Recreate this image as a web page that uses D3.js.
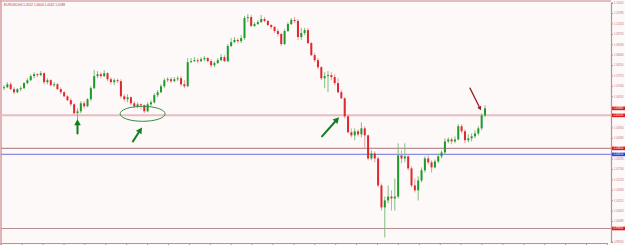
<!DOCTYPE html>
<html>
<head>
<meta charset="utf-8">
<script src="https://cdn.jsdelivr.net/npm/d3@7"></script>
<style>
  body { margin: 0; background: #fdf9f9; }
  text { font-family: "Liberation Sans", Arial, sans-serif; }
</style>
</head>
<body>
<div id="chart-area"></div>
<script>
// EURUSD H4 candlestick chart with support levels and arrows

const symbol = "EURUSD,H4"

const openP = [
  1.0692, 1.0697, 1.0712, 1.0687, 1.0671, 1.0687, 1.0692, 1.0718, 1.0733, 1.0754,
  1.0764, 1.0759, 1.0769, 1.0723, 1.0733, 1.0707, 1.0712, 1.0687, 1.0671, 1.0650,
  1.0630, 1.0609, 1.0563, 1.0573, 1.0614, 1.0599, 1.0635, 1.0692, 1.0754, 1.0764,
  1.0754, 1.0769, 1.0738, 1.0723, 1.0733, 1.0728, 1.0650, 1.0635, 1.0645, 1.0614,
  1.0599, 1.0609, 1.0604, 1.0573, 1.0609, 1.0619, 1.0656, 1.0671, 1.0702, 1.0733,
  1.0738, 1.0728, 1.0738, 1.0743, 1.0712, 1.0702, 1.0826, 1.0831, 1.0836, 1.0831,
  1.0841, 1.0847, 1.0831, 1.0810, 1.0821, 1.0836, 1.0852, 1.0831, 1.0909, 1.0929,
  1.0940, 1.0934, 1.0950, 1.1053, 1.1058, 1.1012, 1.1022, 1.1032, 1.1048, 1.1038,
  1.1017, 1.1007, 1.0986, 1.0971, 1.0919, 1.0986, 1.1022, 1.1043, 1.1038, 1.0955,
  1.0976, 1.0991, 1.0924, 1.0862, 1.0836, 1.0800, 1.0743, 1.0754, 1.0759, 1.0749,
  1.0718, 1.0671, 1.0640, 1.0547, 1.0465, 1.0449, 1.0470, 1.0454, 1.0485, 1.0449,
  1.0330, 1.0356, 1.0330, 1.0191, 1.0078, 1.0114, 1.0134, 1.0124, 1.0134, 1.0346,
  1.0330, 1.0341, 1.0279, 1.0191, 1.0166, 1.0217, 1.0269, 1.0330, 1.0310, 1.0284,
  1.0315, 1.0341, 1.0361, 1.0418, 1.0428, 1.0418, 1.0428, 1.0496, 1.0470, 1.0424,
  1.0434, 1.0444, 1.0459, 1.0485, 1.0552
]
const highP = [
  1.0707, 1.0723, 1.0723, 1.0697, 1.0692, 1.0702, 1.0723, 1.0743, 1.0764, 1.0774,
  1.0769, 1.0780, 1.0774, 1.0743, 1.0738, 1.0723, 1.0718, 1.0697, 1.0676, 1.0656,
  1.0640, 1.0614, 1.0588, 1.0625, 1.0625, 1.0640, 1.0702, 1.0785, 1.0780, 1.0774,
  1.0785, 1.0774, 1.0749, 1.0743, 1.0743, 1.0738, 1.0661, 1.0661, 1.0650, 1.0625,
  1.0619, 1.0614, 1.0609, 1.0619, 1.0630, 1.0666, 1.0682, 1.0712, 1.0743, 1.0749,
  1.0749, 1.0749, 1.0754, 1.0754, 1.0733, 1.0847, 1.0847, 1.0852, 1.0847, 1.0852,
  1.0857, 1.0852, 1.0841, 1.0831, 1.0847, 1.0867, 1.0862, 1.0919, 1.0950, 1.0955,
  1.0950, 1.0965, 1.1064, 1.1074, 1.1069, 1.1032, 1.1043, 1.1069, 1.1058, 1.1043,
  1.1022, 1.1012, 1.0996, 1.0976, 1.0996, 1.1032, 1.1053, 1.1058, 1.1048, 1.1002,
  1.1002, 1.1002, 1.0929, 1.0872, 1.0847, 1.0805, 1.0774, 1.0780, 1.0774, 1.0764,
  1.0743, 1.0682, 1.0645, 1.0557, 1.0485, 1.0485, 1.0480, 1.0516, 1.0496, 1.0454,
  1.0372, 1.0367, 1.0341, 1.0201, 1.0134, 1.0191, 1.0166, 1.0227, 1.0408, 1.0372,
  1.0408, 1.0351, 1.0289, 1.0227, 1.0238, 1.0284, 1.0341, 1.0346, 1.0320, 1.0325,
  1.0356, 1.0372, 1.0434, 1.0439, 1.0439, 1.0444, 1.0506, 1.0506, 1.0480, 1.0454,
  1.0459, 1.0475, 1.0496, 1.0563, 1.0604
]
const lowP = [
  1.0682, 1.0692, 1.0682, 1.0661, 1.0666, 1.0676, 1.0687, 1.0712, 1.0728, 1.0743,
  1.0749, 1.0754, 1.0712, 1.0712, 1.0702, 1.0697, 1.0682, 1.0661, 1.0645, 1.0625,
  1.0599, 1.0552, 1.0521, 1.0563, 1.0588, 1.0594, 1.0625, 1.0687, 1.0743, 1.0743,
  1.0749, 1.0728, 1.0712, 1.0707, 1.0718, 1.0640, 1.0625, 1.0619, 1.0604, 1.0588,
  1.0588, 1.0583, 1.0563, 1.0568, 1.0599, 1.0614, 1.0645, 1.0666, 1.0692, 1.0723,
  1.0718, 1.0723, 1.0728, 1.0702, 1.0692, 1.0697, 1.0821, 1.0826, 1.0821, 1.0826,
  1.0831, 1.0826, 1.0800, 1.0800, 1.0816, 1.0831, 1.0826, 1.0826, 1.0903, 1.0924,
  1.0924, 1.0924, 1.0940, 1.1032, 1.1007, 1.1007, 1.1017, 1.1027, 1.1032, 1.1012,
  1.0996, 1.0976, 1.0960, 1.0909, 1.0914, 1.0981, 1.1017, 1.1027, 1.0940, 1.0940,
  1.0965, 1.0919, 1.0857, 1.0826, 1.0790, 1.0733, 1.0692, 1.0671, 1.0733, 1.0707,
  1.0666, 1.0635, 1.0537, 1.0459, 1.0439, 1.0424, 1.0444, 1.0439, 1.0382, 1.0320,
  1.0320, 1.0310, 1.0181, 1.0062, 0.9923, 1.0098, 1.0062, 1.0062, 1.0124, 1.0305,
  1.0310, 1.0269, 1.0181, 1.0155, 1.0114, 1.0207, 1.0258, 1.0299, 1.0258, 1.0279,
  1.0305, 1.0330, 1.0351, 1.0408, 1.0403, 1.0408, 1.0424, 1.0459, 1.0408, 1.0413,
  1.0418, 1.0434, 1.0449, 1.0475, 1.0542
]
const closeP = [
  1.0697, 1.0712, 1.0687, 1.0671, 1.0687, 1.0692, 1.0718, 1.0733, 1.0754, 1.0764,
  1.0759, 1.0769, 1.0723, 1.0733, 1.0707, 1.0712, 1.0687, 1.0671, 1.0650, 1.0630,
  1.0609, 1.0563, 1.0573, 1.0614, 1.0599, 1.0635, 1.0692, 1.0754, 1.0764, 1.0754,
  1.0769, 1.0738, 1.0723, 1.0733, 1.0728, 1.0650, 1.0635, 1.0645, 1.0614, 1.0599,
  1.0609, 1.0604, 1.0573, 1.0609, 1.0619, 1.0656, 1.0671, 1.0702, 1.0733, 1.0738,
  1.0728, 1.0738, 1.0743, 1.0712, 1.0702, 1.0826, 1.0831, 1.0836, 1.0831, 1.0841,
  1.0847, 1.0831, 1.0810, 1.0821, 1.0836, 1.0852, 1.0831, 1.0909, 1.0929, 1.0940,
  1.0934, 1.0950, 1.1053, 1.1058, 1.1012, 1.1022, 1.1032, 1.1048, 1.1038, 1.1017,
  1.1007, 1.0986, 1.0971, 1.0919, 1.0986, 1.1022, 1.1043, 1.1038, 1.0955, 1.0976,
  1.0991, 1.0924, 1.0862, 1.0836, 1.0800, 1.0743, 1.0754, 1.0759, 1.0749, 1.0718,
  1.0671, 1.0640, 1.0547, 1.0465, 1.0449, 1.0470, 1.0454, 1.0485, 1.0449, 1.0330,
  1.0356, 1.0330, 1.0191, 1.0078, 1.0114, 1.0134, 1.0124, 1.0134, 1.0346, 1.0330,
  1.0341, 1.0279, 1.0191, 1.0166, 1.0217, 1.0269, 1.0330, 1.0310, 1.0284, 1.0315,
  1.0341, 1.0361, 1.0418, 1.0428, 1.0418, 1.0428, 1.0496, 1.0470, 1.0424, 1.0434,
  1.0444, 1.0459, 1.0485, 1.0552, 1.0588
]

// right price scale labels
const priceLabels = [
  "1.11320", "1.10785", "1.10250", "1.09715", "1.09180", "1.08645", "1.08110", "1.07575",
  "1.07040", "1.06505", "1.05970", "1.05435", "1.04900", "1.04365", "1.03830", "1.03295",
  "1.02760", "1.02225", "1.01690", "1.01155", "1.00620", "1.00085", "0.99550", "0.99015"
]

// horizontal levels drawn on the chart
const levelPrices = [1.0552, 1.0382, 1.0351, 0.99695]

// arrows: [candle index, price] tail -> head
const greenArrows = [
  [[22, 1.0459], [22, 1.0532]],
  [[38.6, 1.0418], [41.3, 1.0490]],
  [[95.2, 1.0444], [100.3, 1.0542]]
]
const redArrow = [[139.5, 1.0692], [142.8, 1.0578]]
const ellipseCenter = [41.5, 1.0560]

const W = 625, H = 245
const PLOT = { LEFT: 1, RIGHT: 611, TOP: 1, BOTTOM: 243 }

const svg = d3.select("#chart-area").append("svg")
  .attr("width", W)
  .attr("height", H)

svg.append("rect")
  .attr("width", W).attr("height", H)
  .attr("fill", "#fdf9f9")

const x = d3.scaleLinear()
  .domain([0, closeP.length - 1])
  .range([4, 485])

const y = d3.scaleLinear()
  .domain([+priceLabels[0], +priceLabels[priceLabels.length - 1]])
  .range([2.7, 241.7])

// day separators on the time axis
const dayX = d3.scaleLinear().domain([0, 29]).range([0.8, 606.9])

// frame
svg.append("line")
  .attr("x1", PLOT.LEFT).attr("x2", PLOT.LEFT)
  .attr("y1", 0).attr("y2", H)
  .attr("stroke", "#e2b4b8").attr("stroke-width", 2)
svg.append("line")
  .attr("x1", 0).attr("x2", PLOT.RIGHT)
  .attr("y1", PLOT.TOP).attr("y2", PLOT.TOP)
  .attr("stroke", "#d9a9ad").attr("stroke-width", 1.5)

// levels
const levelColors = ["#e8bcc0", "#b88e90", "#8c8ce0", "#b88e90"]
const levelWidths = [2, 1.2, 1.2, 1.2]
svg.selectAll(".level")
  .data(levelPrices)
  .enter().append("line")
  .attr("class", "level")
  .attr("x1", PLOT.LEFT).attr("x2", PLOT.RIGHT)
  .attr("y1", d => y(d)).attr("y2", d => y(d))
  .attr("stroke", (d, i) => levelColors[i])
  .attr("stroke-width", (d, i) => levelWidths[i])

// candles
const candles = closeP.map((c, i) => ({ i, o: openP[i], h: highP[i], l: lowP[i], c }))

const cg = svg.append("g")
cg.selectAll(".wick")
  .data(candles)
  .enter().append("line")
  .attr("class", "wick")
  .attr("x1", d => x(d.i)).attr("x2", d => x(d.i))
  .attr("y1", d => y(d.h)).attr("y2", d => y(d.l))
  .attr("stroke", d => d.c >= d.o ? "#7fbf7f" : "#eb9a9e")
  .attr("stroke-width", 1)

cg.selectAll(".body")
  .data(candles)
  .enter().append("rect")
  .attr("class", "body")
  .attr("x", d => x(d.i) - 1)
  .attr("width", 2)
  .attr("y", d => y(Math.max(d.o, d.c)))
  .attr("height", d => Math.max(1, Math.abs(y(d.o) - y(d.c))))
  .attr("fill", d => d.c >= d.o ? "#1f9a2a" : "#e0262e")

// annotations
function arrow(pair, color, width, head) {
  const x1 = x(pair[0][0]), y1 = y(pair[0][1])
  const x2 = x(pair[1][0]), y2 = y(pair[1][1])
  const a = Math.atan2(y2 - y1, x2 - x1)
  const bx = x2 - head * Math.cos(a), by = y2 - head * Math.sin(a)
  svg.append("line")
    .attr("x1", x1).attr("y1", y1).attr("x2", bx).attr("y2", by)
    .attr("stroke", color).attr("stroke-width", width)
    .attr("stroke-linecap", "round")
  const px = Math.sin(a) * head * 0.55, py = -Math.cos(a) * head * 0.55
  svg.append("path")
    .attr("d", `M${x2},${y2}L${bx + px},${by + py}L${bx - px},${by - py}Z`)
    .attr("fill", color)
}
greenArrows.forEach(p => arrow(p, "#157d20", 2, 6))
arrow(redArrow, "#9c2028", 1.3, 4)

svg.append("ellipse")
  .attr("cx", x(ellipseCenter[0]))
  .attr("cy", y(ellipseCenter[1]))
  .attr("rx", 22.5).attr("ry", 7.5)
  .attr("fill", "none")
  .attr("stroke", "#3b8a40").attr("stroke-width", 1)

// price markers on the scale
const last = candles[candles.length - 1]
const markers = [
  { p: last.c, fill: "#e01818" },
  { p: levelPrices[0], fill: "#e01818" },
  { p: levelPrices[1], fill: "#e01818" },
  { p: levelPrices[2], fill: "#2244e0" },
  { p: levelPrices[3], fill: "#e01818" }
]

// right price axis, labels hidden where a marker covers them
const tickVals = priceLabels.map(Number)
  .filter(v => markers.every(m => Math.abs(y(v) - y(m.p)) > 3.6))
const yAxis = svg.append("g")
  .attr("transform", `translate(${PLOT.RIGHT}, 0)`)
  .call(d3.axisRight(y)
    .tickValues(tickVals)
    .tickFormat(d => d.toFixed(5))
    .tickSize(2)
    .tickPadding(1))
yAxis.select(".domain").attr("stroke", "#b39496").attr("stroke-width", 1.2)
yAxis.selectAll(".tick line").attr("stroke", "#b39496")
yAxis.selectAll(".tick text")
  .attr("font-size", "2.7px")
  .attr("font-family", "Liberation Sans, Arial, sans-serif")
  .attr("fill", "#c0707c")

// bottom time axis
const xAxis = svg.append("g")
  .attr("transform", `translate(0, ${PLOT.BOTTOM})`)
  .call(d3.axisBottom(dayX).tickValues(d3.range(0, 30)).tickFormat("").tickSize(2).tickSizeOuter(0))
xAxis.select(".domain").attr("stroke", "#b39496").attr("stroke-width", 1.2)
xAxis.selectAll(".tick line").attr("stroke", "#b39496")

const mg = svg.selectAll(".marker")
  .data(markers)
  .enter().append("g")
  .attr("class", "marker")
  .attr("transform", d => `translate(${PLOT.RIGHT + 1}, ${y(d.p)})`)
mg.append("rect")
  .attr("x", 0).attr("y", -1.8)
  .attr("width", 13).attr("height", 3.6)
  .attr("fill", d => d.fill)
mg.append("text")
  .attr("x", 1.5).attr("y", 1)
  .attr("font-size", "2.7px")
  .attr("fill", "#ffffff")
  .text(d => d.p.toFixed(5))

// header
svg.append("text")
  .attr("x", 4).attr("y", 6)
  .attr("font-size", "3.2px")
  .attr("fill", "#b8404c")
  .text(`${symbol}  ${last.o.toFixed(4)} ${last.h.toFixed(4)} ${last.l.toFixed(4)} ${last.c.toFixed(4)}`)
</script>
</body>
</html>
